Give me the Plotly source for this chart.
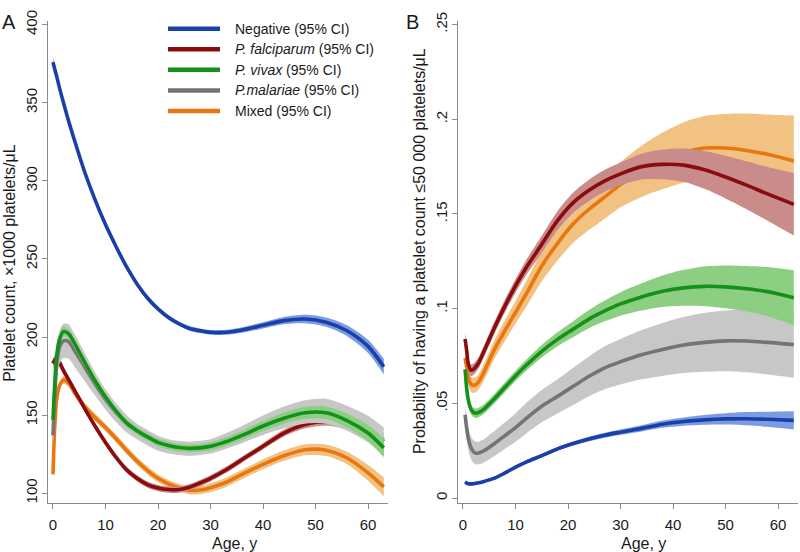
import plotly.graph_objects as go

# ---------------- Panel A: platelet count (x1000/uL) ----------------
AGE_A = [0, 0.3, 0.7, 1.2, 2, 3, 4, 6, 8, 10, 12, 14, 16, 18, 20, 22, 24, 26, 28, 30,
         33, 36, 40, 44, 48, 52, 56, 60, 63]
NEG_A = [376, 372, 367, 360, 350, 338, 327, 306, 288, 272, 258, 245, 234, 225, 218, 212.5,
         208.5, 205.5, 204, 203, 203, 204.5, 207.5, 210.5, 211.5, 209.5, 204, 194, 181]
NEG_A_CI = [3, 3, 3, 2.5, 2.5, 2, 2, 2, 2, 2, 1.8, 1.8, 1.6, 1.6, 1.5, 1.5, 1.5, 1.5, 1.5,
            1.5, 1.6, 1.8, 2, 2.3, 2.7, 3, 3.5, 4.2, 5]
PF_A = [183, 185, 186, 184, 178.5, 172.5, 166.5, 154.5, 143, 132.5, 123, 115, 109.5, 105.5,
        103.3, 102.3, 102.3, 103.8, 106.5, 109.5, 115, 121.5, 130, 138.5, 144, 146, 144,
        139.5, 134]
PF_A_CI = [3, 3, 3, 3, 2.5, 2.5, 2.2, 2, 2, 2, 2, 2, 2, 2, 2, 2, 2, 2, 2, 2, 2, 2, 2, 2.2,
           2.5, 2.8, 3, 3.5, 4]
PV_A = [147, 168, 188, 198, 203.5, 202, 196.5, 184, 172, 161.5, 152.5, 145, 140, 136, 132.5,
        130.5, 129.2, 128.7, 129, 130, 133, 137, 143, 148, 151.5, 151.5, 146.5, 138.5, 129]
PV_A_CI = [3, 3, 3, 3, 3, 3, 3, 2.8, 2.6, 2.5, 2.5, 2.5, 2.5, 2.5, 2.5, 2.5, 2.5, 2.5, 2.5,
           2.6, 2.8, 3, 3.2, 3.5, 3.8, 4, 4.5, 5.2, 6]
PM_A = [137, 160, 182, 193, 197.5, 197, 192, 181, 170, 160, 151.5, 144.5, 139.5, 135.5, 132,
        130, 129, 128.5, 129, 130, 133.5, 137.5, 143.5, 148.5, 152, 152.5, 148, 141, 133]
PM_A_CI = [8, 9, 10, 10.5, 11, 11, 10.5, 9, 7.5, 6.5, 6, 5.5, 5, 5, 4.8, 4.6, 4.5, 4.5, 4.5,
           4.6, 5, 5.5, 6.2, 7, 7.5, 8, 8, 8.5, 9]
MX_A = [112, 140, 160, 168.5, 172.5, 170.5, 165, 155.5, 148.5, 142, 135, 127.5, 120.5, 114.5,
        109.5, 106, 103.5, 101.8, 102, 103.5, 107, 112, 118.5, 124, 127.8, 127.5, 122.5, 113,
        104]
MX_A_CI = [2.5, 2.5, 2.5, 2.5, 2.5, 2.5, 2.5, 2.5, 2.5, 2.5, 2.5, 2.5, 2.5, 2.5, 2.5, 2.5,
           2.5, 2.6, 2.7, 2.8, 3, 3, 3.2, 3.3, 3.5, 3.7, 4, 5, 6]

# ---------------- Panel B: probability of platelets <=50 000/uL ----------------
AGE_B = [0.4, 0.7, 1, 1.5, 2, 2.5, 3, 4, 6, 8, 10, 12, 15, 18, 21, 24, 27, 30, 34, 38, 42,
         46, 50, 54, 58, 63]
NEG_B = [0.0085, 0.0079, 0.0076, 0.0075, 0.0076, 0.0078, 0.0081, 0.0088, 0.0105, 0.0133,
         0.0163, 0.019, 0.0224, 0.026, 0.0288, 0.0312, 0.0332, 0.0348, 0.0368, 0.039, 0.0404,
         0.0413, 0.0418, 0.0419, 0.0416, 0.041]
NEG_B_CI = [0.0008, 0.0008, 0.0008, 0.0008, 0.0008, 0.0008, 0.0008, 0.0008, 0.0008, 0.0008,
            0.0008, 0.0009, 0.001, 0.001, 0.0011, 0.0012, 0.0013, 0.0014, 0.0016, 0.0019,
            0.0022, 0.0026, 0.003, 0.0035, 0.004, 0.0048]
PM_B = [0.044, 0.037, 0.0315, 0.0268, 0.0245, 0.0237, 0.0238, 0.025, 0.0288, 0.033, 0.0372,
        0.042, 0.0485, 0.0537, 0.059, 0.0643, 0.0688, 0.072, 0.0757, 0.0785, 0.0808, 0.0822,
        0.083, 0.0829, 0.0822, 0.081]
PM_B_CI = [0.005, 0.0055, 0.0058, 0.006, 0.006, 0.006, 0.006, 0.0062, 0.0066, 0.007, 0.0075,
           0.008, 0.0085, 0.009, 0.0098, 0.0105, 0.0113, 0.012, 0.013, 0.014, 0.0148, 0.0155,
           0.016, 0.0165, 0.017, 0.0175]
PV_B = [0.068, 0.058, 0.052, 0.047, 0.0452, 0.0448, 0.0452, 0.047, 0.0525, 0.0585, 0.0645,
        0.07, 0.0775, 0.0838, 0.0892, 0.0945, 0.0988, 0.1025, 0.1062, 0.1092, 0.111, 0.1118,
        0.1115, 0.1105, 0.109, 0.1058]
PV_B_CI = [0.003, 0.003, 0.0028, 0.0026, 0.0025, 0.0025, 0.0025, 0.0025, 0.0025, 0.0026,
           0.0027, 0.0029, 0.0033, 0.0037, 0.0042, 0.0048, 0.0055, 0.0062, 0.0072, 0.0083,
           0.0095, 0.0105, 0.0113, 0.012, 0.013, 0.0145]
PF_B = [0.084, 0.078, 0.071, 0.0675, 0.068, 0.0695, 0.0715, 0.0775, 0.09, 0.1015, 0.112,
        0.1215, 0.134, 0.1465, 0.156, 0.1625, 0.1675, 0.1712, 0.175, 0.1762, 0.1758, 0.1733,
        0.1695, 0.1652, 0.1606, 0.1551]
PF_B_CI = [0.003, 0.003, 0.003, 0.003, 0.003, 0.003, 0.003, 0.003, 0.0032, 0.0034, 0.0036,
           0.004, 0.0045, 0.005, 0.0053, 0.0056, 0.0058, 0.006, 0.0068, 0.0078, 0.0088, 0.01,
           0.0113, 0.0127, 0.0142, 0.0165]
MX_B = [0.074, 0.069, 0.064, 0.0602, 0.0595, 0.06, 0.0615, 0.0665, 0.0785, 0.0885, 0.098,
        0.1075, 0.1225, 0.1345, 0.1448, 0.1525, 0.159, 0.1655, 0.1725, 0.178, 0.1825, 0.1848,
        0.1848, 0.1835, 0.1815, 0.178]
MX_B_CI = [0.004, 0.004, 0.004, 0.004, 0.004, 0.004, 0.004, 0.0045, 0.005, 0.0055, 0.006,
           0.0068, 0.008, 0.009, 0.01, 0.011, 0.0115, 0.012, 0.0135, 0.015, 0.016, 0.017,
           0.018, 0.0195, 0.021, 0.024]

TICKS_A = [100, 150, 200, 250, 300, 350, 400]
TICKS_B = [0, 0.05, 0.1, 0.15, 0.2, 0.25]
TICKS_B_TEXT = ["0", ".05", ".1", ".15", ".2", ".25"]
TICKS_X = [0, 10, 20, 30, 40, 50, 60]

LEGEND_NAMES = ["Negative (95% CI)", "<i>P. falciparum</i> (95% CI)", "<i>P. vivax</i> (95% CI)",
                "<i>P.malariae</i> (95% CI)", "Mixed (95% CI)"]

COL = {
    "neg": ("#1a3fa8", "rgba(110,145,222,0.9)"),
    "pf": ("#8b0c0c", "#c98c8a"),
    "pv": ("#15901a", "#8dcf82"),
    "pm": ("#747474", "#c7c7c7"),
    "mx": ("#e8770f", "#f2c283"),
}

FONT = "Liberation Sans, Arial, sans-serif"
W, H = 800, 552

fig = go.Figure()


def add_series(ages, mid, ci, key, xa, ya, name):
    line_col, band_col = COL[key]
    lo = [m - c for m, c in zip(mid, ci)]
    hi = [m + c for m, c in zip(mid, ci)]
    fig.add_trace(go.Scatter(x=ages, y=lo, mode="lines", line=dict(width=0, shape="spline", smoothing=0.8),
                             xaxis=xa, yaxis=ya, showlegend=False, hoverinfo="skip"))
    fig.add_trace(go.Scatter(x=ages, y=hi, mode="lines", line=dict(width=0, shape="spline", smoothing=0.8),
                             fill="tonexty", fillcolor=band_col, xaxis=xa, yaxis=ya,
                             showlegend=False, hoverinfo="skip"))
    fig.add_trace(go.Scatter(x=ages, y=mid, mode="lines", name=name,
                             line=dict(color=line_col, width=3.6, shape="spline", smoothing=0.8),
                             xaxis=xa, yaxis=ya, showlegend=False))


order = [("mx", 4), ("pf", 1), ("pm", 3), ("pv", 2), ("neg", 0)]
data_a = {"neg": (NEG_A, NEG_A_CI), "pf": (PF_A, PF_A_CI), "pv": (PV_A, PV_A_CI),
          "pm": (PM_A, PM_A_CI), "mx": (MX_A, MX_A_CI)}
data_b = {"neg": (NEG_B, NEG_B_CI), "pf": (PF_B, PF_B_CI), "pv": (PV_B, PV_B_CI),
          "pm": (PM_B, PM_B_CI), "mx": (MX_B, MX_B_CI)}
for key, idx in order:
    m, c = data_a[key]
    add_series(AGE_A, m, c, key, "x", "y", LEGEND_NAMES[idx])
for key, idx in order:
    m, c = data_b[key]
    add_series(AGE_B, m, c, key, "x2", "y2", LEGEND_NAMES[idx])

ydom = [1 - 502 / H, 1 - 10 / H]
axis_common = dict(showline=True, linecolor="#8a8a8a", linewidth=1.4, ticks="outside",
                   ticklen=5, tickwidth=1.2, tickcolor="#8a8a8a", showgrid=False,
                   zeroline=False, tickfont=dict(family=FONT, size=15, color="#1a1a1a"))

fig.update_layout(
    width=W, height=H, margin=dict(l=0, r=0, t=0, b=0),
    paper_bgcolor="white", plot_bgcolor="white", showlegend=False,
    font=dict(family=FONT, color="#1a1a1a"),
    xaxis=dict(domain=[48 / W, 388 / W], range=[-0.95, 63.8], tickvals=TICKS_X,
               anchor="y", ticklabelstandoff=3, **axis_common),
    yaxis=dict(domain=ydom, range=[93.7, 402.5], tickvals=TICKS_A, tickangle=-90,
               anchor="x", ticklabelstandoff=-1, **axis_common),
    xaxis2=dict(domain=[458 / W, 798 / W], range=[-0.95, 63.8], tickvals=TICKS_X,
                anchor="y2", ticklabelstandoff=3, **axis_common),
    yaxis2=dict(domain=ydom, range=[-0.0026, 0.252], tickvals=TICKS_B, ticktext=TICKS_B_TEXT,
                tickangle=-90, anchor="x2", ticklabelstandoff=-1, **axis_common),
)

ann = []


def px_ann(x, y, text, size, **kw):
    d = dict(x=x / W, y=1 - y / H, xref="paper", yref="paper", text=text, showarrow=False,
             font=dict(family=FONT, size=size, color="#1a1a1a"))
    d.update(kw)
    ann.append(d)


px_ann(10, 258, "Platelet count, ×1000 platelets/μL", 16, textangle=-90,
       xanchor="center", yanchor="middle")
px_ann(419, 245, "Probability of having a platelet count ≤50 000 platelets/μL", 16,
       textangle=-90, xanchor="center", yanchor="middle")
px_ann(234, 543, "Age, y", 16, xanchor="center", yanchor="middle")
px_ann(643, 543, "Age, y", 16, xanchor="center", yanchor="middle")
px_ann(9, 11, "A", 20, xanchor="center", yanchor="middle")
px_ann(412, 11, "B", 20, xanchor="center", yanchor="middle")

# legend (drawn inside panel A)
leg_keys = ["neg", "pf", "pv", "pm", "mx"]
leg_y = [18, 39, 60, 81, 102]
shapes = []
for k, yy, nm in zip(leg_keys, leg_y, LEGEND_NAMES):
    shapes.append(dict(type="line", xref="paper", yref="paper", x0=168 / W, x1=220 / W,
                       y0=1 - yy / H, y1=1 - yy / H, line=dict(color=COL[k][0], width=4.5)))
    px_ann(233, yy, nm, 14, xanchor="left", yanchor="middle")

fig.update_layout(annotations=ann, shapes=shapes)
fig.write_html("out.html", config={"displayModeBar": False},
               post_script="document.body.style.margin='0';document.body.style.overflow='hidden';")
